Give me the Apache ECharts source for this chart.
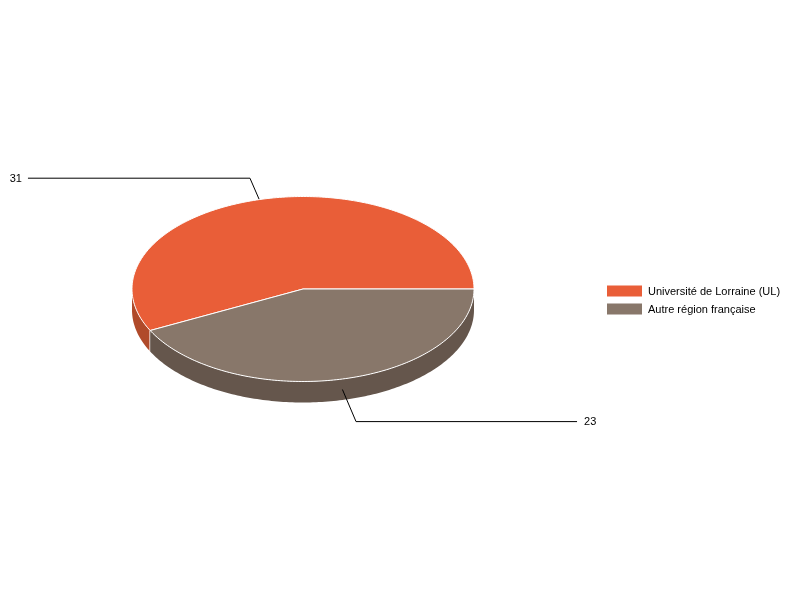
<!DOCTYPE html>
<html>
<head>
<meta charset="utf-8">
<style>html,body{margin:0;padding:0;background:#fff}#c{width:800px;height:600px}</style>
<script src="https://cdn.jsdelivr.net/npm/echarts@6/dist/echarts.min.js"></script>
</head>
<body>
<div id="c"></div>
<script>
var categories = ['Université de Lorraine (UL)', 'Autre région française'];
var values = [31, 23];
var topColors = ['#E95E38', '#88776A'];
var sideColors = ['#B04A2A', '#65564C'];

var chart = echarts.init(document.getElementById('c'), null, {renderer: 'canvas'});
var total = values.reduce(function (a, b) { return a + b; }, 0);
var CX = 303, CY = 289, RX = 171, RY = 92.5, DEPTH = 21;
var FONT = '11px "Liberation Sans", Arial, sans-serif';

function pt(deg, dy) {
  var r = deg * Math.PI / 180;
  return [CX + RX * Math.cos(r), CY - RY * Math.sin(r) + (dy || 0)];
}
function arcPts(a0, a1, dy) {
  var out = [], n = Math.max(2, Math.ceil(Math.abs(a1 - a0)));
  for (var i = 0; i <= n; i++) out.push(pt(a0 + (a1 - a0) * i / n, dy));
  return out;
}
function renderSlice(idx) {
  return function () {
    var before = 0;
    for (var i = 0; i < idx; i++) before += values[i];
    var a0 = before / total * 360, a1 = (before + values[idx]) / total * 360;
    var mid = (a0 + a1) / 2;
    var kids = [];
    var s0 = Math.max(a0, 180), s1 = Math.min(a1, 360);
    if (s1 > s0) {
      var wall = arcPts(s0, s1, 0).concat(arcPts(s1, s0, DEPTH));
      kids.push({type: 'polygon', z2: 1, shape: {points: wall}, style: {fill: sideColors[idx]}});
      if (a1 < 360) {
        var p = pt(a1, 0);
        kids.push({type: 'line', z2: 1, shape: {x1: p[0], y1: p[1], x2: p[0], y2: p[1] + DEPTH},
          style: {stroke: '#fff', lineWidth: 1.5}});
      }
    }
    var anchor = pt(mid, DEPTH / 2);
    var sx = Math.cos(mid * Math.PI / 180) >= 0 ? 1 : -1;
    var sy = Math.sin(mid * Math.PI / 180) >= 0 ? -1 : 1;
    var elbow = [anchor[0] + sx * 13.6, anchor[1] + sy * (sy < 0 ? 31.3 : 32.1)];
    var end = [sx > 0 ? elbow[0] + 221 : elbow[0] - 222, elbow[1]];
    kids.push({type: 'polyline', z2: 2, shape: {points: [anchor, elbow, end]},
      style: {stroke: '#000', lineWidth: 1, fill: null}});
    kids.push({type: 'text', z2: 2,
      style: {text: String(values[idx]), x: end[0] + sx * (sx > 0 ? 7 : 6), y: Math.floor(end[1]) + 0.5, font: FONT, fill: '#000',
        align: sx > 0 ? 'left' : 'right', verticalAlign: 'middle'}});
    var face = [[CX, CY]].concat(arcPts(a0, a1, 0));
    kids.push({type: 'polygon', z2: 3, shape: {points: face},
      style: {fill: topColors[idx], stroke: '#fff', lineWidth: 1, lineJoin: 'round'}});
    return {type: 'group', children: kids};
  };
}

chart.setOption({
  animation: false,
  backgroundColor: '#fff',
  legend: {
    show: true, orient: 'vertical', left: 607, top: 285.5, padding: 0,
    itemWidth: 35, itemHeight: 13, itemGap: 5,
    icon: 'path://M0 0H35V11H0Z M0 13L35 13', selectedMode: false,
    textStyle: {fontFamily: '"Liberation Sans", Arial, sans-serif', fontSize: 11, color: '#000', padding: [0, 0, 0, 1]},
    data: categories
  },
  series: categories.map(function (name, i) {
    return {
      type: 'custom', name: name, coordinateSystem: 'none', silent: true, clip: false,
      itemStyle: {color: topColors[i]},
      data: [values[i]],
      renderItem: renderSlice(i)
    };
  })
});
</script>
</body>
</html>
